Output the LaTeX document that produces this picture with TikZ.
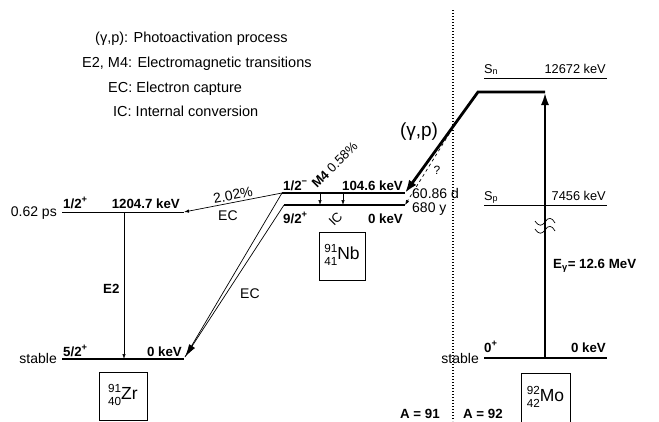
\documentclass[tikz,border=0pt]{standalone}
\usepackage{fontspec}
\setmainfont{Liberation Sans}
\usetikzlibrary{arrows.meta}
\newcommand{\nucl}[3]{{\fontsize{11.7}{13}\selectfont\begin{tabular}{@{}r@{}}#1\\#2\end{tabular}}#3}

\begin{document}
\begin{tikzpicture}[
    x=1pt, y=-1pt,
    >={Latex[length=5pt,width=3.5pt]},
    level/.style={line width=0.8pt},
    midlevel/.style={line width=1.3pt},
    thicklevel/.style={line width=2.6pt},
    lab/.style={inner sep=0pt, font=\fontsize{14}{16}\selectfont},
    blab/.style={inner sep=0pt, font=\fontsize{13.3}{16}\selectfont\bfseries},
    mlab/.style={inner sep=0pt, font=\fontsize{12.8}{15}\selectfont},
    legend/.style={inner sep=0pt, anchor=base west, font=\fontsize{14.5}{17}\selectfont},
    nucbox/.style={draw, line width=0.8pt, inner sep=0pt, minimum width=48pt, minimum height=48pt, font=\fontsize{17.5}{20}\selectfont},
    trans/.style={->, line width=0.7pt},
    heavy/.style={line width=2.8pt},
    sep/.style={line width=1.3pt, dash pattern=on 1.3pt off 1.7pt},
]
    \useasboundingbox (0,0) rectangle (659,421);

    % legend
    \node[legend] (lgGp) at (95,42) {(γ,p): Photoactivation process};
    \node[legend] (lgEM) at (82,67) {E2, M4: Electromagnetic transitions};
    \node[legend] (lgEC) at (108,92) {EC: Electron capture};
    \node[legend] (lgIC) at (113,116) {IC: Internal conversion};

    % level end points
    \coordinate (zrHL) at (62,212);  \coordinate (zrHR) at (184,212);
    \coordinate (zrGL) at (62,359);  \coordinate (zrGR) at (184,359);
    \coordinate (nbML) at (282,193); \coordinate (nbMR) at (405,193);
    \coordinate (nbGL) at (284,205); \coordinate (nbGR) at (405,205);
    \coordinate (moNL) at (484,78);  \coordinate (moNR) at (607,78);
    \coordinate (moPL) at (484,205); \coordinate (moPR) at (607,205);
    \coordinate (moGL) at (484,358); \coordinate (moGR) at (607,358);

    % 91Zr
    \draw[level] (zrHL) -- (zrHR);
    \draw[thicklevel] (zrGL) -- (zrGR);
    \node[lab, anchor=base east] (zrLife) at (57,216) {0.62 ps};
    \node[blab, anchor=base west] (zrHSpin) at (63,208) {1/2\textsuperscript{+}};
    \node[blab, anchor=base east] (zrHE) at (180,208) {1204.7 keV};
    \node[lab, anchor=base east] (zrStable) at (57,363) {stable};
    \node[blab, anchor=base west] (zrGSpin) at (63,356) {5/2\textsuperscript{+}};
    \node[blab, anchor=base east] (zrGE) at (182,356) {0 keV};
    \node[nucbox] (zrBox) at (123,396) {\nucl{91}{40}{Zr}};

    \coordinate (eTwoTop) at (124,212);
    \coordinate (eTwoBot) at (124,359);
    \draw[trans] (eTwoTop) -- (eTwoBot);
    \node[blab, anchor=base west] (eTwoLab) at (103,293) {E2};

    % 91Nb
    \draw[midlevel] (nbML) -- (nbMR);
    \draw[line width=1.8pt] (nbGL) -- (nbGR);
    \node[blab, anchor=base west] (nbMSpin) at (283,190) {1/2\textsuperscript{−}};
    \node[blab, anchor=base east] (nbME) at (403,190) {104.6 keV};
    \node[blab, anchor=base west] (nbGSpin) at (283,223) {9/2\textsuperscript{+}};
    \node[blab, anchor=base east] (nbGE) at (403,223) {0 keV};
    \node[lab, anchor=base west] (nbMLife) at (412,198) {60.86 d};
    \node[lab, anchor=base west] (nbGLife) at (412,212) {680 y};
    \node[nucbox, minimum width=46pt] (nbBox) at (342,256) {\nucl{91}{41}{Nb}};

    \coordinate (mFourTop) at (320,193); \coordinate (mFourBot) at (320,205);
    \coordinate (icTop) at (343,193);    \coordinate (icBot) at (343,205);
    \draw[trans] (mFourTop) -- (mFourBot);
    \draw[trans] (icTop) -- (icBot);
    \node[lab, anchor=base west, rotate=45, font=\fontsize{13}{15}\selectfont] (mFourLab) at (317,189) {\textbf{M4} 0.58\%};
    \node[lab, anchor=base west, rotate=45, font=\fontsize{13}{15}\selectfont] (icLab) at (334,227) {IC};

    % electron capture
    \draw[trans] (nbML) -- (zrHR);
    \node[lab, rotate=11] (ecOneRate) at (233,195) {2.02\%};
    \node[lab, anchor=base west] (ecOneLab) at (218,220) {EC};
    \coordinate (ecTip) at (185,357);
    \draw[line width=0.7pt] (nbML) -- (ecTip);
    \draw[line width=0.7pt, -{Latex[length=13pt,width=7pt]}] (nbGL) -- (ecTip);
    \node[lab, anchor=base west] (ecTwoLab) at (240,298) {EC};

    % separator
    \coordinate (sepTop) at (453,10);
    \coordinate (sepBot) at (453,421);
    \draw[sep] (sepTop) -- (sepBot);
    \node[blab, anchor=base west] (aOne) at (400,418) {A = 91};
    \node[blab, anchor=base west] (aTwo) at (463,418) {A = 92};

    % 92Mo
    \draw[level] (moNL) -- (moNR);
    \draw[level] (moPL) -- (moPR);
    \draw[thicklevel] (moGL) -- (moGR);
    \node[mlab, anchor=base west] (moNLab) at (484,73) {S\textsubscript{n}};
    \node[mlab, anchor=base east] (moNE) at (606,73) {12672 keV};
    \node[mlab, anchor=base west] (moPLab) at (484,200) {S\textsubscript{p}};
    \node[mlab, anchor=base east] (moPE) at (606,200) {7456 keV};
    \node[blab, anchor=base west] (moGSpin) at (484,352) {0\textsuperscript{+}};
    \node[blab, anchor=base east] (moGE) at (606,352) {0 keV};
    \node[lab, anchor=base east] (moStable) at (479,363) {stable};
    \node[nucbox, minimum width=49pt, minimum height=50pt] (moBox) at (545.5,398) {\nucl{92}{42}{Mo}};

    % photoactivation
    \coordinate (gpBase) at (545,358);
    \coordinate (gpTop) at (545,92);
    \coordinate (gpKnee) at (478,92);
    \coordinate (gpFork) at (459,118);
    \draw[heavy, -{Latex[length=13pt,width=8pt]}] (gpBase) -- (gpTop);
    \draw[heavy, -{Latex[length=13pt,width=9pt]}] (gpTop) -- (gpKnee) -- (nbMR);
    \draw[line width=0.7pt, dashed, ->] (gpFork) -- (nbGR);
    \node[lab, font=\fontsize{19}{21}\selectfont] (gpLab) at (419,132) {(γ,p)};
    \node[lab, font=\fontsize{12}{14}\selectfont] (gpQuery) at (437,170) {?};
    \node[blab, anchor=base west] (gpEnergy) at (553,268) {E\textsubscript{γ}= 12.6 MeV};

    % break marks
    \draw[line width=0.7pt] (535,221) .. controls (539,227) and (542,226) .. (545,222) .. controls (548,217) and (552,217) .. (555,223);
    \draw[line width=0.7pt] (535,229) .. controls (539,235) and (542,234) .. (545,230) .. controls (548,225) and (552,225) .. (555,231);
\end{tikzpicture}
\end{document}
